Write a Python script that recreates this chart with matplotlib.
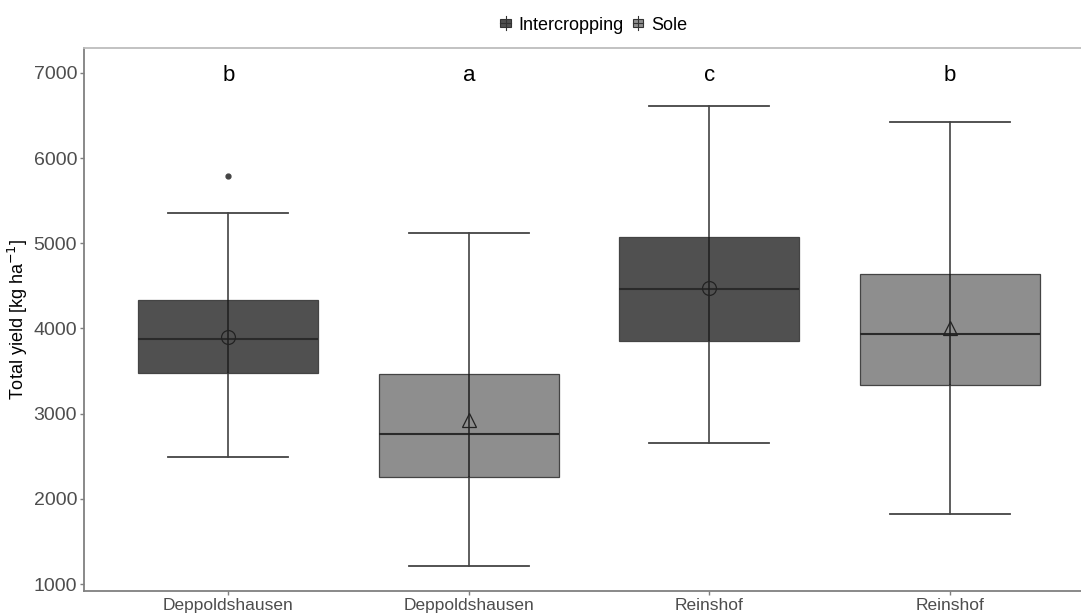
import matplotlib
matplotlib.use("Agg")
import matplotlib.pyplot as plt
from matplotlib.patches import Rectangle
from matplotlib.lines import Line2D
from matplotlib.legend_handler import HandlerBase

plt.rcParams['font.family'] = ['Liberation Sans', 'DejaVu Sans']

# ---- data ----
sites = ["Deppoldshausen", "Deppoldshausen", "Reinshof", "Reinshof"]
systems = ["Intercropping", "Sole", "Intercropping", "Sole"]
whislo = [2490, 1210, 2656, 1822]
q1 = [3477, 2256, 3853, 3337]
med = [3877, 2761, 4464, 3935]
q3 = [4334, 3466, 5074, 4640]
whishi = [5356, 5121, 6612, 6424]
means = [3900, 2926, 4475, 4006]
outliers = [[5790], [], [], []]
letters = ["b", "a", "c", "b"]
letter_y = 6965

fill_colors = {"Intercropping": "#505050", "Sole": "#8E8E8E"}
mean_markers = {"Intercropping": "o", "Sole": "^"}

fig = plt.figure(figsize=(10.81, 6.14), dpi=100)
ax = fig.add_axes([84 / 1081, 23 / 614, 1 - 84 / 1081, (591 - 48) / 614])

positions = list(range(1, len(sites) + 1))
stats = []
for i in range(len(sites)):
    stats.append(dict(med=med[i], q1=q1[i], q3=q3[i], whislo=whislo[i],
                      whishi=whishi[i], fliers=outliers[i], label=sites[i]))

line_col = "#333333"
bp = ax.bxp(stats, positions=positions, widths=0.75, patch_artist=True,
            showfliers=True, capwidths=0.5,
            boxprops=dict(edgecolor="#444444", linewidth=0.9),
            medianprops=dict(color="#2a2a2a", linewidth=1.5),
            whiskerprops=dict(color=line_col, linewidth=1.1),
            capprops=dict(color="#444444", linewidth=1.3),
            flierprops=dict(marker="o", markersize=3.5, markerfacecolor="#444444",
                            markeredgecolor="#444444"))
for patch, s in zip(bp["boxes"], systems):
    patch.set_facecolor(fill_colors[s])

# whisker line continues through the box
ax.vlines(positions, q1, q3, colors="#1e1e1e", linewidth=1.1, zorder=3)

for i, s in enumerate(systems):
    ax.plot(positions[i], means[i], marker=mean_markers[s], markersize=10,
            markerfacecolor="none", markeredgecolor="#222222",
            markeredgewidth=0.9, zorder=4)
    ax.text(positions[i], letter_y, letters[i], ha="center", va="center",
            fontsize=16, color="black")

ax.set_xlim(0.4, 4.546)
ax.set_ylim(918, 7293)
ax.set_yticks([1000, 2000, 3000, 4000, 5000, 6000, 7000])
ax.set_xticks(positions)
ax.set_xticklabels(sites)
ax.tick_params(axis="both", colors="#7f7f7f", labelcolor="#4d4d4d",
               length=3, width=1)
ax.tick_params(axis="y", labelsize=14, pad=2)
ax.tick_params(axis="x", labelsize=12.5, pad=2)
ax.set_ylabel("Total yield [kg ha$^{-1}$]", fontsize=13, color="black")
ax.yaxis.set_label_coords(-0.054, 0.5)

for side in ["left", "bottom"]:
    ax.spines[side].set_color("#808080")
    ax.spines[side].set_linewidth(1.3)
ax.spines["top"].set_color("#bdbdbd")
ax.spines["top"].set_linewidth(1.3)
ax.spines["right"].set_visible(False)


class BoxHandler(HandlerBase):
    def create_artists(self, legend, orig_handle, xdescent, ydescent,
                       width, height, fontsize, trans):
        fc = orig_handle.get_facecolor()
        cx = width / 2 - xdescent
        bw = width * 0.8
        r = Rectangle((cx - bw / 2, height * 0.2 - ydescent), bw, height * 0.6,
                      facecolor=fc, edgecolor="#333333", linewidth=0.8, transform=trans)
        v = Line2D([cx, cx], [-ydescent, height - ydescent],
                   color="#333333", linewidth=0.8, transform=trans)
        m = Line2D([cx - bw / 2, cx + bw / 2],
                   [height * 0.5 - ydescent] * 2, color="#333333",
                   linewidth=0.8, transform=trans)
        return [r, v, m]


handles = [Rectangle((0, 0), 1, 1, facecolor=fill_colors[k]) for k in ["Intercropping", "Sole"]]
fig.legend(handles, ["Intercropping", "Sole"], handler_map={Rectangle: BoxHandler()},
           loc="center", bbox_to_anchor=(593 / 1081, 1 - 25 / 614), ncol=2,
           frameon=False, fontsize=13, handlelength=0.75, handleheight=0.8,
           handletextpad=0.35, columnspacing=0.4)

fig.savefig("out.png", dpi=100)
